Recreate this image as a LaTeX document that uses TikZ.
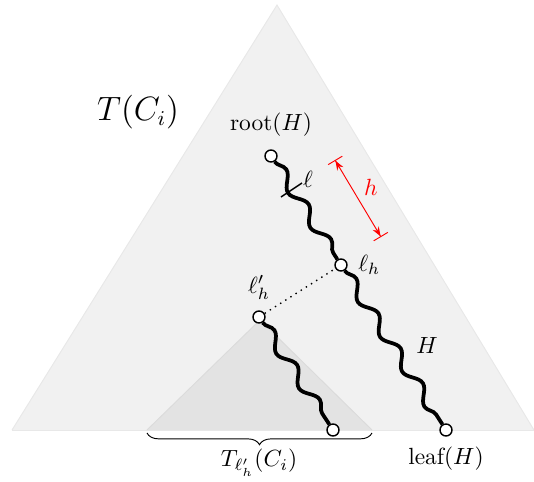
\documentclass[tikz,border=0pt]{standalone}
\usepackage{amssymb}
\usetikzlibrary{decorations.pathmorphing, decorations.pathreplacing, arrows.meta}
\definecolor{treefill}{RGB}{241,241,241}
\definecolor{subfill}{RGB}{227,227,227}

\begin{document}
\begin{tikzpicture}[x=0.015cm, y=-0.015cm, >=Stealth,
    vert/.style={circle, draw, fill=white, semithick, inner sep=0pt, minimum size=0.18cm},
    wavy/.style={ultra thick, decorate, decoration={snake, segment length=0.62cm, amplitude=0.085cm}}]
    \useasboundingbox (0,0) rectangle (534,482);
    % Cây T(C_i)
    \fill[treefill] (277,5) -- (12,430) -- (534,430) -- cycle;
    \draw[black!9, thin] (12,430) -- (277,5) -- (534,430);
    \draw[black!9, thin] (12,430) -- (534,430);
    \node at (138,112) {\fontsize{13.5}{16}\selectfont $T(C_i)$};
    % Cây con
    \fill[subfill] (260,320) -- (147,430) -- (372,430) -- cycle;
    \draw[black!14, thin] (147,430) -- (260,320) -- (372,430);
    % Các đỉnh
    \node[vert] (root) at (271,156) {};
    \node[vert] (lh) at (341,265) {};
    \node[vert] (leaf) at (446,430) {};
    \node[vert] (lhp) at (259,317) {};
    \node[vert] (sleaf) at (333,430) {};
    \node[above=2pt] (rootlbl) at (root.north) {root$(H)$};
    \node[below=1pt] (leaflbl) at (leaf.south) {leaf$(H)$};
    \node[right=1pt] (lhlbl) at (lh.east) {$\ell_h$};
    \node[above=1pt] (lhplbl) at (lhp.north) {$\ell'_h$};
    % Đường đi H
    \draw[wavy] (root) -- (lh);
    \draw[wavy] (lh) -- (leaf);
    \draw[wavy] (lhp) -- (sleaf);
    \draw[dotted, semithick] (lhp) -- (lh);
    \node (Hlbl) at (427,345) {$H$};
    % Vạch ell
    \coordinate (ta) at (281,197);
    \coordinate (tb) at (302,183);
    \draw[semithick] (ta) -- (tb);
    \node (ell) at (308,179) {$\ell$};
    % Độ cao h
    \coordinate (ha) at (335,160);
    \coordinate (hb) at (381,237);
    \draw[red, {Bar[width=7pt]Stealth[length=4pt]}-{Stealth[length=4pt]Bar[width=7pt]}] (ha) -- (hb);
    \node[red] (hlbl) at (371,187) {$h$};
    % Ngoặc dưới
    \coordinate (ba) at (147,433);
    \coordinate (bb) at (372,433);
    \draw[decorate, decoration={brace, mirror, amplitude=5pt}] (ba) -- (bb);
    \node (Tlbl) at (259,463) {$T_{\ell'_h}(C_i)$};
\end{tikzpicture}
\end{document}
